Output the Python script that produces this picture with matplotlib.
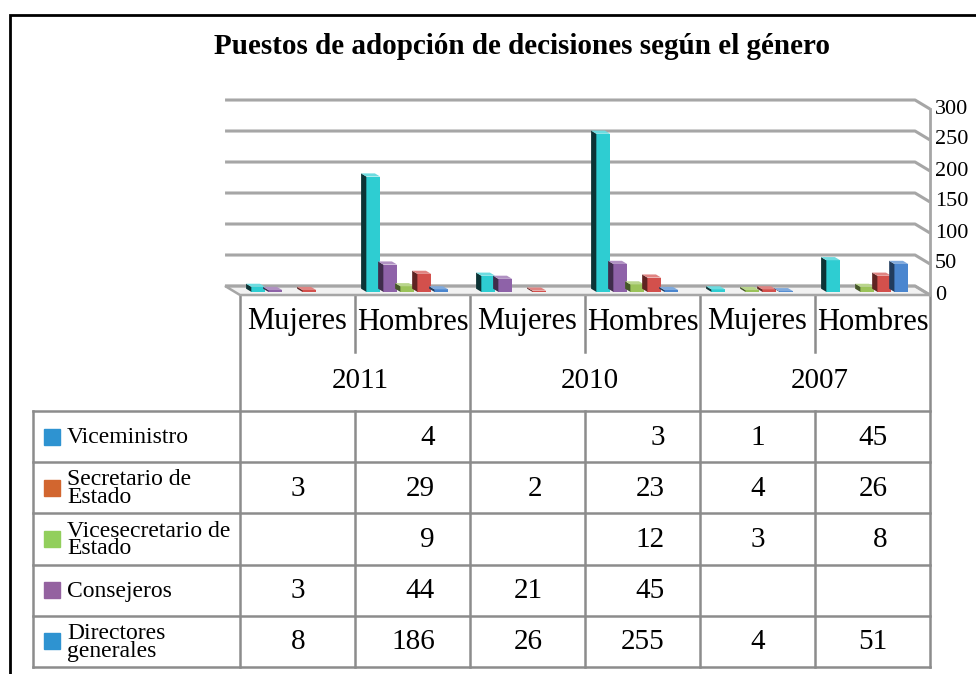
import numpy as np
import matplotlib.pyplot as plt
import matplotlib.colors as mcolors
from matplotlib.patches import Polygon, Rectangle

# data (columns: 2011 M, 2011 H, 2010 M, 2010 H, 2007 M, 2007 H)
anios = ['2011', '2010', '2007']
generos = ['Mujeres', 'Hombres', 'Mujeres', 'Hombres', 'Mujeres', 'Hombres']
cargos = ['Viceministro', 'Secretario de\nEstado', 'Vicesecretario de\nEstado',
          'Consejeros', 'Directores\ngenerales']
viceministro = [None, 4, None, 3, 1, 45]
secretario = [3, 29, 2, 23, 4, 26]
vicesecretario = [None, 9, None, 12, 3, 8]
consejeros = [3, 44, 21, 45, None, None]
directores = [8, 186, 26, 255, 4, 51]
tabla = [viceministro, secretario, vicesecretario, consejeros, directores]
y_ticks = [0, 50, 100, 150, 200, 250, 300]

colores_tabla = ['#2E93D1', '#D2662F', '#92CF5C', '#9462A0', '#2E93D1']
colores_barra = ['#4A86CF', '#D3504C', '#9BC35A', '#8E62A8', '#2ECDD2']
orden_barras = [4, 3, 2, 1, 0]   # left to right in each group

plt.rcParams['font.family'] = ['Liberation Serif', 'DejaVu Serif']

W, H = 976, 674
fig = plt.figure(figsize=(W / 100, H / 100), dpi=100)

# overlay axes in pixel units for frame / table
ov = fig.add_axes([0, 0, 1, 1])
ov.set_xlim(0, W)
ov.set_ylim(H, 0)
ov.axis('off')

ov.plot([10, 10, W], [H, 14.5, 14.5], color='black', lw=2, solid_joinstyle='miter')
ov.text(522, 47, 'Puestos de adopción de decisiones según el género',
        ha='center', va='center', fontsize=21, fontweight='bold')

# chart axes
x_left, x_right, y_zero, y_top = 240, 930, 295, 109
ax = fig.add_axes([x_left / W, 1 - y_zero / H, (x_right - x_left) / W, (y_zero - y_top) / H])
ax.set_xlim(0, 6)
ax.set_ylim(0, 300)
ax.axis('off')
ax.patch.set_alpha(0)

DX, DY = 0.13, 14.5
gris = '#a6a6a6'
ax.add_patch(Polygon([(0, 0), (6, 0), (6 - DX, DY), (-DX, DY)], closed=True,
                     fc='#f2f2f2', ec=gris, lw=1.8, clip_on=False, zorder=1))
for v in y_ticks:
    ax.plot([-DX, 6 - DX, 6], [v + DY, v + DY, v], color=gris, lw=2.2,
            clip_on=False, zorder=1, solid_capstyle='butt')
    ax.text(6 + 5 / 115, v, str(v), ha='left', va='center', fontsize=16, clip_on=False)
ax.plot([6, 6], [0, 300], color=gris, lw=2, clip_on=False, zorder=1)

pitch, bw = 0.148, 0.12
off = (1 - (4 * pitch + bw)) / 2
d1, d2 = 0.35, 0.7
sdx, sdy = (d2 - d1) * DX, (d2 - d1) * DY
for g in range(6):
    for k, s in enumerate(orden_barras):
        v = tabla[s][g]
        if v is None:
            continue
        rgb = np.array(mcolors.to_rgb(colores_barra[s]))
        oscuro = rgb * (0.25 if s == 4 else 0.45)
        claro = rgb + (1 - rgb) * 0.3
        z = 3 + k * 0.1
        x = g + off + k * pitch - d1 * DX
        y0 = d1 * DY
        ax.bar(x, v, width=bw, bottom=y0, align='edge', color=colores_barra[s],
               zorder=z, clip_on=False)
        ax.add_patch(Polygon([(x, y0), (x, y0 + v), (x - sdx, y0 + v + sdy), (x - sdx, y0 + sdy)],
                             closed=True, fc=oscuro, ec='none', zorder=z, clip_on=False))
        ax.add_patch(Polygon([(x, y0 + v), (x + bw, y0 + v), (x + bw - sdx, y0 + v + sdy),
                              (x - sdx, y0 + v + sdy)],
                             closed=True, fc=claro, ec='none', zorder=z, clip_on=False))

# category labels and table
lc = '#8c8c8c'
lw = 1.8
col_w = 115
bordes = [x_left + i * col_w for i in range(7)]
t_top, row_h, t_bot = 411, 51.2, 667
t_left = 33

for i in range(6):
    ov.text(bordes[i] + col_w / 2, 322, generos[i], ha='center', va='center', fontsize=22)
for j, a in enumerate(anios):
    ov.text(bordes[2 * j + 1] + 5, 381, a, ha='center', va='center', fontsize=21)

for i, x in enumerate(bordes):
    if i % 2 == 0:
        ov.plot([x, x], [296, t_bot], color=lc, lw=lw)
    else:
        ov.plot([x, x], [296, 352], color=lc, lw=lw)
        ov.plot([x, x], [t_top, t_bot], color=lc, lw=lw)
ov.plot([t_left, t_left], [t_top, t_bot], color=lc, lw=lw)
for r in range(6):
    y = t_top + r * row_h
    ov.plot([t_left, x_right], [y, y], color=lc, lw=lw)

for r, nombre in enumerate(cargos):
    yc = t_top + (r + 0.5) * row_h
    ov.add_patch(Rectangle((44, yc - 8), 16, 16, color=colores_tabla[r]))
    ov.text(67, yc + 1, nombre, ha='left', va='center', fontsize=17, linespacing=0.8)

for c in range(6):
    largo = max(len(str(tabla[r][c])) for r in range(5) if tabla[r][c] is not None)
    xr = bordes[c] + col_w / 2 + largo * 7.5
    for r in range(5):
        v = tabla[r][c]
        if v is None:
            continue
        yc = t_top + (r + 0.5) * row_h
        ov.text(xr, yc + 1, str(v), ha='right', va='center', fontsize=21)

fig.savefig('out.png', dpi=100)
